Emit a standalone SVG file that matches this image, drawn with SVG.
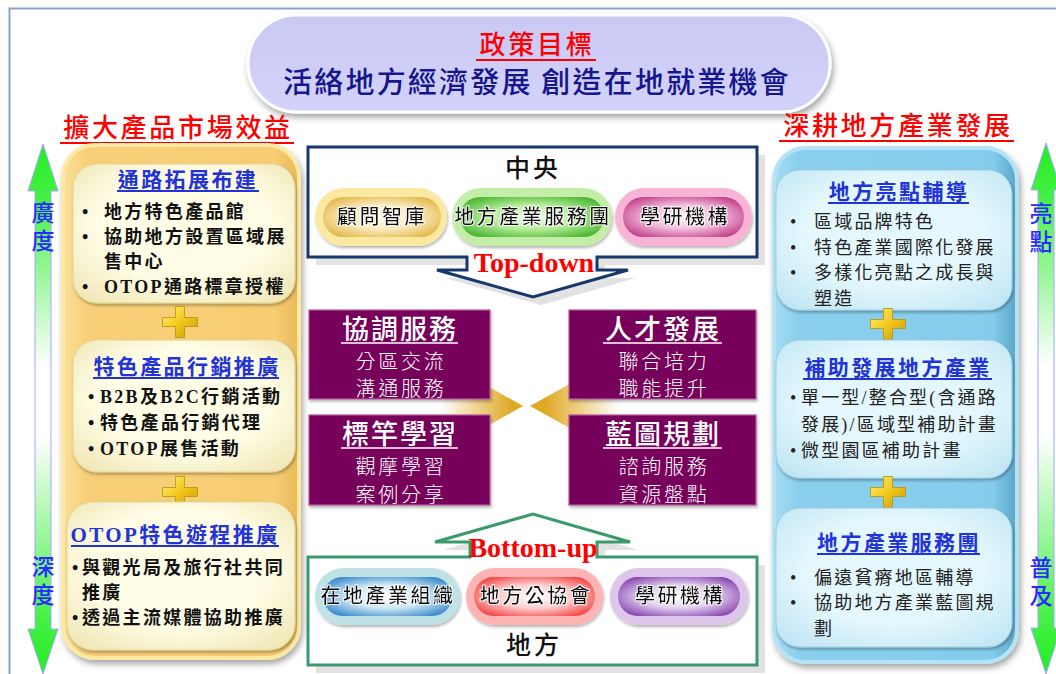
<svg xmlns="http://www.w3.org/2000/svg" width="1056" height="674" viewBox="0 0 1056 674">
<style>
.hd{font-family:'Noto Sans CJK TC','Noto Sans CJK SC',sans-serif;font-size:26px;fill:#ff0000;letter-spacing:2.7px;text-anchor:middle;font-weight:500;}
.ttl{font-family:'Liberation Serif','Noto Sans CJK TC','Noto Sans CJK SC',serif;font-size:21px;fill:#2233d8;font-weight:700;letter-spacing:2.4px;text-anchor:middle;}
.bl{font-family:'Liberation Serif','Noto Sans CJK TC','Noto Sans CJK SC',serif;font-size:18px;fill:#111;font-weight:700;letter-spacing:2.3px;}
.br{font-family:'Liberation Serif','Noto Sans CJK TC','Noto Sans CJK SC',serif;font-size:18px;fill:#222;letter-spacing:2.2px;}
.side{font-family:'Noto Sans CJK TC','Noto Sans CJK SC',sans-serif;font-size:23px;fill:#2a2aff;font-weight:500;letter-spacing:5px;}
.pt{font-family:'Noto Sans CJK TC','Noto Sans CJK SC',sans-serif;font-size:20px;fill:#111;text-anchor:middle;font-weight:500;letter-spacing:2.5px;}
.pw{font-family:'Noto Sans CJK TC','Noto Sans CJK SC',sans-serif;fill:#ffffff;text-anchor:middle;}
.big{font-size:27px;letter-spacing:2px;font-weight:500;}
.sub{font-size:20px;letter-spacing:2.8px;font-weight:300;}
.lab{font-family:'Liberation Serif',serif;font-weight:700;font-size:28px;fill:#ff0000;text-anchor:middle;}
.ul{stroke-width:2;}
.purple{fill:#76005a;stroke:#b25a98;stroke-width:1.2;}
.inL{fill:url(#gInL);stroke:#e2d79a;stroke-width:1;}
.inR{fill:url(#gInR);stroke:#9fcfe2;stroke-width:1;}
</style>
<defs>
<filter id="sh" x="-10%" y="-10%" width="130%" height="130%"><feDropShadow dx="2" dy="4" stdDeviation="3" flood-color="#000" flood-opacity="0.35"/></filter>
<filter id="shs" x="-10%" y="-10%" width="130%" height="140%"><feDropShadow dx="1" dy="2" stdDeviation="1.5" flood-color="#000" flood-opacity="0.3"/></filter>
<filter id="glow" x="-10%" y="-20%" width="120%" height="140%"><feMorphology in="SourceAlpha" operator="dilate" radius="1.2" result="d"/><feFlood flood-color="#fff" flood-opacity="0.8"/><feComposite in2="d" operator="in" result="w"/><feMerge><feMergeNode in="w"/><feMergeNode in="SourceGraphic"/></feMerge></filter>
<linearGradient id="gArrow" x1="0" y1="0" x2="0" y2="1">
<stop offset="0" stop-color="#22ee22"/><stop offset="0.1" stop-color="#44f044"/><stop offset="0.42" stop-color="#ffffff"/><stop offset="0.55" stop-color="#ffffff"/><stop offset="0.9" stop-color="#44f044"/><stop offset="1" stop-color="#22ee22"/>
</linearGradient>
<linearGradient id="gTitle" x1="0" y1="0" x2="0" y2="1"><stop offset="0" stop-color="#c9c9f4"/><stop offset="1" stop-color="#d2d2fa"/></linearGradient>
<linearGradient id="gPanL" x1="0" y1="0" x2="1" y2="0"><stop offset="0" stop-color="#fbe09a"/><stop offset="0.1" stop-color="#f8cf78"/><stop offset="0.9" stop-color="#f7cc72"/><stop offset="1" stop-color="#e9b85a"/></linearGradient>
<linearGradient id="gPanR" x1="0" y1="0" x2="1" y2="0"><stop offset="0" stop-color="#a6dcf2"/><stop offset="0.1" stop-color="#8ad0ee"/><stop offset="0.9" stop-color="#84ccec"/><stop offset="1" stop-color="#5aa6c8"/></linearGradient>
<radialGradient id="gInL" cx="0.5" cy="0.45" r="0.7"><stop offset="0.55" stop-color="#fffde6"/><stop offset="1" stop-color="#efe6b4"/></radialGradient>
<radialGradient id="gInR" cx="0.5" cy="0.45" r="0.7"><stop offset="0.55" stop-color="#e3f7fd"/><stop offset="1" stop-color="#bfe5f3"/></radialGradient>
<radialGradient id="pY" cx="0.5" cy="0.5" r="0.6"><stop offset="0" stop-color="#fffaf0"/><stop offset="0.5" stop-color="#fbecc0"/><stop offset="1" stop-color="#e2b84a"/></radialGradient>
<radialGradient id="pG" cx="0.5" cy="0.5" r="0.6"><stop offset="0" stop-color="#f4fff0"/><stop offset="0.5" stop-color="#b8ec9c"/><stop offset="1" stop-color="#4cb834"/></radialGradient>
<radialGradient id="pP" cx="0.5" cy="0.5" r="0.6"><stop offset="0" stop-color="#fff8fc"/><stop offset="0.5" stop-color="#f3bcdc"/><stop offset="1" stop-color="#c2408c"/></radialGradient>
<radialGradient id="pB" cx="0.5" cy="0.5" r="0.6"><stop offset="0" stop-color="#ffffff"/><stop offset="0.5" stop-color="#cfe8f5"/><stop offset="1" stop-color="#3c8ccc"/></radialGradient>
<radialGradient id="pR" cx="0.5" cy="0.5" r="0.6"><stop offset="0" stop-color="#ffffff"/><stop offset="0.5" stop-color="#ffcfcf"/><stop offset="1" stop-color="#f04848"/></radialGradient>
<radialGradient id="pV" cx="0.5" cy="0.5" r="0.6"><stop offset="0" stop-color="#ffffff"/><stop offset="0.5" stop-color="#e2d0ef"/><stop offset="1" stop-color="#8a48b2"/></radialGradient>
<linearGradient id="gChevL" gradientUnits="userSpaceOnUse" x1="440" y1="0" x2="512" y2="0"><stop offset="0" stop-color="#ffffff"/><stop offset="1" stop-color="#e0a925"/></linearGradient>
<linearGradient id="gChevR" gradientUnits="userSpaceOnUse" x1="545" y1="0" x2="620" y2="0"><stop offset="0" stop-color="#e0a925"/><stop offset="1" stop-color="#ffffff"/></linearGradient>
<linearGradient id="gPlus" x1="0" y1="0" x2="1" y2="1"><stop offset="0" stop-color="#fff27a"/><stop offset="0.5" stop-color="#f2c81c"/><stop offset="1" stop-color="#c79a0a"/></linearGradient>
<path id="plus" d="M-4.5,-15.5 h9 v11 h13 v9 h-13 v11 h-9 v-11 h-13 v-9 h13 z" fill="url(#gPlus)" stroke="#b8900c" stroke-width="0.8"/>
</defs>

<rect width="1056" height="674" fill="#ffffff"/>
<path d="M9.5,674 V8.5 H1056" fill="none" stroke="#86a2d2" stroke-width="2"/>

<g id="goal">
<rect x="248" y="15" width="582" height="97" rx="48.5" fill="url(#gTitle)" stroke="#ffffff" stroke-width="3" filter="url(#sh)"/>
<text class="hd" x="537" y="54">政策目標</text>
<line class="ul" x1="476" y1="60" x2="596" y2="60" stroke="#ff0000"/>
<text x="537" y="93" text-anchor="middle" font-family="'Noto Sans CJK TC','Noto Sans CJK SC',sans-serif" font-size="29" font-weight="500" fill="#16168c" letter-spacing="2.2">活絡地方經濟發展 創造在地就業機會</text>
</g>

<g id="header-left">
<text class="hd" x="178" y="137">擴大產品市場效益</text>
<line class="ul" x1="60" y1="143" x2="294" y2="143" stroke="#ff0000"/>
</g>
<g id="header-right">
<text class="hd" x="898" y="135">深耕地方產業發展</text>
<line class="ul" x1="779" y1="141" x2="1014" y2="141" stroke="#ff0000"/>
</g>

<g id="arrow-left">
<path d="M43,144 L58,191 L51,191 L51,629 L58,629 L43,674 L28,629 L35,629 L35,191 L28,191 Z" fill="url(#gArrow)" stroke="#a6a6ff" stroke-width="1"/>
<text class="side" x="43" y="201" writing-mode="vertical-rl">廣度</text>
<text class="side" x="43" y="555" writing-mode="vertical-rl">深度</text>
</g>
<g id="arrow-right">
<path d="M1046,143 L1061,190 L1054,190 L1054,628 L1061,628 L1046,674 L1031,628 L1038,628 L1038,190 L1031,190 Z" fill="url(#gArrow)" stroke="#a6a6ff" stroke-width="1"/>
<text class="side" x="1041" y="202" writing-mode="vertical-rl" font-size="22" letter-spacing="5">亮點</text>
<text class="side" x="1041" y="556" writing-mode="vertical-rl" font-size="22" letter-spacing="5">普及</text>
</g>

<g id="panel-left">
<rect x="63" y="145" width="236" height="513" rx="32" fill="url(#gPanL)" stroke="#fde8a4" stroke-width="4" filter="url(#sh)"/>
<g id="box-channel">
<rect class="inL" x="73" y="164" width="222" height="139" rx="24" filter="url(#shs)"/>
<text class="ttl" x="188" y="187">通路拓展布建</text>
<line class="ul" x1="117" y1="191" x2="259" y2="191" stroke="#2233d8"/>
<text class="bl" x="82" y="218">•</text><text class="bl" x="104" y="218">地方特色產品館</text>
<text class="bl" x="82" y="243">•</text><text class="bl" x="104" y="243">協助地方設置區域展</text>
<text class="bl" x="104" y="268">售中心</text>
<text class="bl" x="82" y="293">•</text><text class="bl" x="104" y="293" letter-spacing="1.5">OTOP通路標章授權</text>
</g>
<use href="#plus" x="180" y="322"/>
<g id="box-marketing">
<rect class="inL" x="73" y="340" width="222" height="132" rx="24" filter="url(#shs)"/>
<text class="ttl" x="187" y="374">特色產品行銷推廣</text>
<line class="ul" x1="93" y1="378" x2="279" y2="378" stroke="#2233d8"/>
<text class="bl" x="88" y="403">•</text><text class="bl" x="100" y="403" letter-spacing="1.2">B2B及B2C行銷活動</text>
<text class="bl" x="88" y="429">•</text><text class="bl" x="100" y="429">特色產品行銷代理</text>
<text class="bl" x="88" y="455">•</text><text class="bl" x="100" y="455" letter-spacing="1.4">OTOP展售活動</text>
</g>
<use href="#plus" x="180" y="492"/>
<g id="box-tour">
<rect class="inL" x="67" y="502" width="228" height="148" rx="26" filter="url(#shs)"/>
<text class="ttl" x="175" y="542" letter-spacing="1.8">OTOP特色遊程推廣</text>
<line class="ul" x1="71" y1="546" x2="279" y2="546" stroke="#2233d8"/>
<text class="bl" x="72" y="574">•</text><text class="bl" x="82" y="574">與觀光局及旅行社共同</text>
<text class="bl" x="82" y="599">推廣</text>
<text class="bl" x="72" y="624">•</text><text class="bl" x="82" y="624">透過主流媒體協助推廣</text>
</g>
</g>

<g id="panel-right">
<rect x="774" y="148" width="243" height="514" rx="32" fill="url(#gPanR)" stroke="#b4e3f5" stroke-width="4" filter="url(#sh)"/>
<g id="box-highlight">
<rect class="inR" x="776" y="170" width="236" height="140" rx="24" filter="url(#shs)"/>
<text class="ttl" x="899" y="199">地方亮點輔導</text>
<line class="ul" x1="828" y1="203" x2="969" y2="203" stroke="#2233d8"/>
<text class="br" x="790" y="228">•</text><text class="br" x="814" y="228">區域品牌特色</text>
<text class="br" x="790" y="254">•</text><text class="br" x="814" y="254">特色產業國際化發展</text>
<text class="br" x="790" y="279">•</text><text class="br" x="814" y="279">多樣化亮點之成長與</text>
<text class="br" x="814" y="305">塑造</text>
</g>
<use href="#plus" x="888" y="324"/>
<g id="box-subsidy">
<rect class="inR" x="776" y="340" width="236" height="138" rx="24" filter="url(#shs)"/>
<text class="ttl" x="898" y="375">補助發展地方產業</text>
<line class="ul" x1="803" y1="379" x2="992" y2="379" stroke="#2233d8"/>
<text class="br" x="790" y="404">•</text><text class="br" x="801" y="404" textLength="197" lengthAdjust="spacing">單一型/整合型(含通路</text>
<text class="br" x="801" y="431" textLength="197" lengthAdjust="spacing">發展)/區域型補助計畫</text>
<text class="br" x="790" y="457">•</text><text class="br" x="801" y="457">微型園區補助計畫</text>
</g>
<use href="#plus" x="888" y="492"/>
<g id="box-service">
<rect class="inR" x="776" y="508" width="236" height="139" rx="24" filter="url(#shs)"/>
<text class="ttl" x="899" y="550">地方產業服務團</text>
<line class="ul" x1="817" y1="554" x2="980" y2="554" stroke="#2233d8"/>
<text class="br" x="790" y="584">•</text><text class="br" x="814" y="584">偏遠貧瘠地區輔導</text>
<text class="br" x="790" y="609">•</text><text class="br" x="814" y="609">協助地方產業藍圖規</text>
<text class="br" x="814" y="635">劃</text>
</g>
</g>

<g id="connectors">
<path d="M440,359.5 L523,406 L440,452.5 Z" fill="url(#gChevL)"/>
<path d="M620,356 L530,406 L620,456 Z" fill="url(#gChevR)"/>
</g>

<g id="central">
<path d="M316,155 H765 V265 H605 V278 H636 L541,305 L445,278 H475 V265 H316 Z" fill="#e2e2e2"/>
<path d="M308,147 H757 V257 H597 V270 H628 L533,297 L437,270 H467 V257 H308 Z" fill="#ffffff" stroke="#18386b" stroke-width="3" stroke-linejoin="miter"/>
<text x="533" y="177" text-anchor="middle" font-family="'Noto Sans CJK TC','Noto Sans CJK SC',sans-serif" font-size="25" font-weight="500" fill="#111" letter-spacing="3">中央</text>
<g id="pill-think">
<rect x="315" y="188" width="132" height="58" rx="29" fill="#fbe9a2" filter="url(#shs)"/>
<rect x="323" y="197" width="118" height="40" rx="20" fill="url(#pY)"/>
<text class="pt" x="382" y="224" filter="url(#glow)">顧問智庫</text>
</g>
<g id="pill-service">
<rect x="452" y="188" width="160" height="58" rx="29" fill="#c4eea8" filter="url(#shs)"/>
<rect x="460" y="197" width="144" height="40" rx="20" fill="url(#pG)"/>
<text class="pt" x="533" y="224" font-size="19" letter-spacing="1" filter="url(#glow)">地方產業服務團</text>
</g>
<g id="pill-academia-top">
<rect x="615" y="188" width="137" height="58" rx="29" fill="#f8b4d4" filter="url(#shs)"/>
<rect x="623" y="197" width="121" height="40" rx="20" fill="url(#pP)"/>
<text class="pt" x="685" y="224" filter="url(#glow)">學研機構</text>
</g>
<text class="lab" x="534" y="272">Top-down</text>
</g>

<g id="box-coord">
<rect class="purple" x="309" y="310" width="181" height="89" filter="url(#shs)"/>
<text class="pw big" x="400" y="339">協調服務</text>
<line x1="341" y1="343" x2="458" y2="343" stroke="#ffffff" stroke-width="1.6"/>
<text class="pw sub" x="401" y="369">分區交流</text>
<text class="pw sub" x="401" y="396">溝通服務</text>
</g>
<g id="box-talent">
<rect class="purple" x="569" y="310" width="187" height="89" filter="url(#shs)"/>
<text class="pw big" x="663" y="339">人才發展</text>
<line x1="603" y1="343" x2="722" y2="343" stroke="#ffffff" stroke-width="1.6"/>
<text class="pw sub" x="664" y="369">聯合培力</text>
<text class="pw sub" x="664" y="396">職能提升</text>
</g>
<g id="box-bench">
<rect class="purple" x="309" y="415" width="181" height="90" filter="url(#shs)"/>
<text class="pw big" x="400" y="444">標竿學習</text>
<line x1="341" y1="448" x2="458" y2="448" stroke="#ffffff" stroke-width="1.6"/>
<text class="pw sub" x="401" y="474">觀摩學習</text>
<text class="pw sub" x="401" y="502">案例分享</text>
</g>
<g id="box-blueprint">
<rect class="purple" x="569" y="415" width="187" height="90" filter="url(#shs)"/>
<text class="pw big" x="663" y="444">藍圖規劃</text>
<line x1="603" y1="448" x2="722" y2="448" stroke="#ffffff" stroke-width="1.6"/>
<text class="pw sub" x="664" y="474">諮詢服務</text>
<text class="pw sub" x="664" y="502">資源盤點</text>
</g>

<g id="local">
<path d="M316,565 H478 V550 H443 L541,522 L638,550 H605 V565 H765 V673 H316 Z" fill="#e2e2e2"/>
<path d="M308,557 H470 V542 H435 L533,514 L630,542 H597 V557 H757 V665 H308 Z" fill="#ffffff" stroke="#3a9a6c" stroke-width="3"/>
<g id="pill-industry">
<rect x="315" y="568" width="145" height="57" rx="28.5" fill="#bfe2e6" filter="url(#shs)"/>
<rect x="323" y="577" width="129" height="39" rx="19.5" fill="url(#pB)"/>
<text class="pt" x="388" y="603" letter-spacing="0.8" filter="url(#glow)">在地產業組織</text>
</g>
<g id="pill-assoc">
<rect x="466" y="568" width="137" height="57" rx="28.5" fill="#ffb4b4" filter="url(#shs)"/>
<rect x="474" y="577" width="121" height="39" rx="19.5" fill="url(#pR)"/>
<text class="pt" x="536" y="603" letter-spacing="3" filter="url(#glow)">地方公協會</text>
</g>
<g id="pill-academia-bottom">
<rect x="610" y="568" width="138" height="57" rx="28.5" fill="#dcc6ea" filter="url(#shs)"/>
<rect x="618" y="577" width="122" height="39" rx="19.5" fill="url(#pV)"/>
<text class="pt" x="680" y="603" filter="url(#glow)">學研機構</text>
</g>
<text x="534" y="654" text-anchor="middle" font-family="'Noto Sans CJK TC','Noto Sans CJK SC',sans-serif" font-size="25" font-weight="500" fill="#111" letter-spacing="3">地方</text>
<text class="lab" x="533" y="557">Bottom-up</text>
</g>
</svg>
